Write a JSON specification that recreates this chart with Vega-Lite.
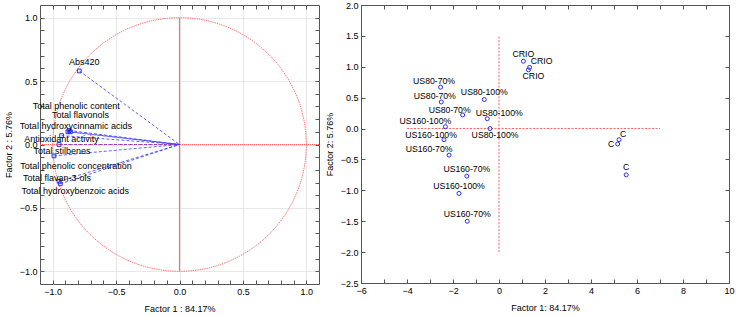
{
  "$schema": "https://vega.github.io/schema/vega-lite/v6.json",
  "autosize": {"type": "pad"},
  "padding": {"left": 3, "top": 0, "right": 0, "bottom": 0},
  "background": "white",
  "config": {
    "font": "Liberation Sans",
    "view": {"stroke": "#555555", "strokeWidth": 1},
    "axis": {
      "labelFontSize": 9,
      "titleFontSize": 9,
      "titleFontWeight": "normal",
      "labelColor": "#000000",
      "titleColor": "#000000",
      "gridColor": "#e2e2e2",
      "gridWidth": 0.8,
      "domain": false,
      "tickColor": "#555555",
      "tickSize": -4,
      "labelPadding": 7,
      "labelOverlap": false,
      "labelFlush": false
    }
  },
  "datasets": {
    "loadings": [
      {"variable": "Abs420", "f1": -0.79, "f2": 0.58},
      {"variable": "Total phenolic content", "f1": -0.87, "f2": 0.11},
      {"variable": "Total flavonols", "f1": -0.86, "f2": 0.1},
      {"variable": "Total hydroxycinnamic acids", "f1": -0.88, "f2": 0.1},
      {"variable": "Antioxidant activity", "f1": -0.93, "f2": 0.07},
      {"variable": "Total stilbenes", "f1": -0.95, "f2": 0.0},
      {"variable": "Total phenolic concentration", "f1": -0.99, "f2": -0.09},
      {"variable": "Total flavan-3-ols", "f1": -0.95, "f2": -0.29},
      {"variable": "Total hydroxybenzoic acids", "f1": -0.94, "f2": -0.31}
    ],
    "unitCircle": [
      {"k": 0, "cx": 1.0, "cy": 0.0},
      {"k": 1, "cx": 0.9659, "cy": 0.2588},
      {"k": 2, "cx": 0.866, "cy": 0.5},
      {"k": 3, "cx": 0.7071, "cy": 0.7071},
      {"k": 4, "cx": 0.5, "cy": 0.866},
      {"k": 5, "cx": 0.2588, "cy": 0.9659},
      {"k": 6, "cx": 0.0, "cy": 1.0},
      {"k": 7, "cx": -0.2588, "cy": 0.9659},
      {"k": 8, "cx": -0.5, "cy": 0.866},
      {"k": 9, "cx": -0.7071, "cy": 0.7071},
      {"k": 10, "cx": -0.866, "cy": 0.5},
      {"k": 11, "cx": -0.9659, "cy": 0.2588},
      {"k": 12, "cx": -1.0, "cy": 0.0},
      {"k": 13, "cx": -0.9659, "cy": -0.2588},
      {"k": 14, "cx": -0.866, "cy": -0.5},
      {"k": 15, "cx": -0.7071, "cy": -0.7071},
      {"k": 16, "cx": -0.5, "cy": -0.866},
      {"k": 17, "cx": -0.2588, "cy": -0.9659},
      {"k": 18, "cx": 0.0, "cy": -1.0},
      {"k": 19, "cx": 0.2588, "cy": -0.9659},
      {"k": 20, "cx": 0.5, "cy": -0.866},
      {"k": 21, "cx": 0.7071, "cy": -0.7071},
      {"k": 22, "cx": 0.866, "cy": -0.5},
      {"k": 23, "cx": 0.9659, "cy": -0.2588}
    ],
    "scores": [
      {"id": "s1", "sample": "CRIO", "f1": 1.06, "f2": 1.09},
      {"id": "s2", "sample": "CRIO", "f1": 1.33, "f2": 0.99},
      {"id": "s3", "sample": "CRIO", "f1": 1.28, "f2": 0.95},
      {"id": "s4", "sample": "US80-70%", "f1": -2.54, "f2": 0.67},
      {"id": "s5", "sample": "US80-70%", "f1": -2.51, "f2": 0.43},
      {"id": "s6", "sample": "US80-70%", "f1": -1.58, "f2": 0.22},
      {"id": "s7", "sample": "US80-100%", "f1": -0.64, "f2": 0.47},
      {"id": "s8", "sample": "US80-100%", "f1": -0.51, "f2": 0.16},
      {"id": "s9", "sample": "US80-100%", "f1": -0.39, "f2": 0.0},
      {"id": "s10", "sample": "US160-100%", "f1": -2.33, "f2": 0.03},
      {"id": "s11", "sample": "US160-100%", "f1": -2.39, "f2": -0.18},
      {"id": "s12", "sample": "US160-70%", "f1": -2.17, "f2": -0.43},
      {"id": "s13", "sample": "US160-70%", "f1": -1.4, "f2": -0.77},
      {"id": "s14", "sample": "US160-100%", "f1": -1.74, "f2": -1.05},
      {"id": "s15", "sample": "US160-70%", "f1": -1.38, "f2": -1.5},
      {"id": "s16", "sample": "C", "f1": 5.22, "f2": -0.18},
      {"id": "s17", "sample": "C", "f1": 5.16, "f2": -0.25},
      {"id": "s18", "sample": "C", "f1": 5.53, "f2": -0.75}
    ]
  },
  "spacing": 4,
  "hconcat": [
    {
      "width": 279,
      "height": 279,
      "encoding": {
        "x": {"type": "quantitative", "scale": {"domain": [-1.1, 1.1], "nice": false, "zero": false},
              "axis": {"values": [-1, -0.9, -0.8, -0.7, -0.6, -0.5, -0.4, -0.3, -0.2, -0.1, 0, 0.1, 0.2, 0.3, 0.4, 0.5, 0.6, 0.7, 0.8, 0.9, 1],
                       "labelExpr": "abs(datum.value * 2 - round(datum.value * 2)) < 0.001 ? format(datum.value, '.1f') : ''",
                       "gridOpacity": {"condition": {"test": "abs(datum.value * 2 - round(datum.value * 2)) < 0.001", "value": 1}, "value": 0},
                       "title": "Factor 1 : 84.17%", "titlePadding": 8}},
        "y": {"type": "quantitative", "scale": {"domain": [-1.1, 1.1], "nice": false, "zero": false},
              "axis": {"values": [-1, -0.9, -0.8, -0.7, -0.6, -0.5, -0.4, -0.3, -0.2, -0.1, 0, 0.1, 0.2, 0.3, 0.4, 0.5, 0.6, 0.7, 0.8, 0.9, 1],
                       "labelExpr": "abs(datum.value * 2 - round(datum.value * 2)) < 0.001 ? format(datum.value, '.1f') : ''",
                       "gridOpacity": {"condition": {"test": "abs(datum.value * 2 - round(datum.value * 2)) < 0.001", "value": 1}, "value": 0},
                       "title": "Factor 2 : 5.76%", "titlePadding": 6}}
      },
      "resolve": {"axis": {"x": "independent", "y": "independent"}},
      "layer": [
        {
          "layer": [
            {
              "data": {"name": "unitCircle"},
              "mark": {"type": "line", "interpolate": "cardinal-closed", "tension": 0, "color": "#ff6a6a", "stroke": "#ff6a6a", "strokeWidth": 0.9, "strokeDash": [1.5, 0.8]},
              "encoding": {
                "x": {"field": "cx", "type": "quantitative", "title": "Factor 1 : 84.17%"},
                "y": {"field": "cy", "type": "quantitative", "title": "Factor 2 : 5.76%"},
                "order": {"field": "k", "type": "quantitative"}
              }
            },
            {
              "data": {"values": [{}]},
              "mark": {"type": "rule", "color": "#ff7070", "stroke": "#ff7070", "strokeWidth": 1.2},
              "encoding": {"x": {"datum": 0}, "y": {"datum": -1}, "y2": {"datum": 1}}
            },
            {
              "data": {"values": [{}]},
              "mark": {"type": "rule", "color": "#ff5050", "stroke": "#ff5050", "strokeWidth": 0.9, "strokeDash": [1, 1]},
              "encoding": {"y": {"datum": 0}, "x": {"datum": -1.1}, "x2": {"datum": 1.1}}
            },
            {
              "data": {"name": "loadings"},
              "mark": {"type": "rule", "color": "#3a3aff", "stroke": "#3a3aff", "strokeWidth": 0.8, "strokeDash": [3, 2]},
              "encoding": {
                "x": {"field": "f1", "type": "quantitative", "title": "Factor 1 : 84.17%"},
                "y": {"field": "f2", "type": "quantitative", "title": "Factor 2 : 5.76%"},
                "x2": {"datum": 0},
                "y2": {"datum": 0}
              }
            },
            {
              "data": {"name": "loadings"},
              "mark": {"type": "point", "shape": "square", "filled": false, "stroke": "#2a2aff", "strokeWidth": 1, "size": 14, "opacity": 1},
              "encoding": {
                "x": {"field": "f1", "type": "quantitative", "title": "Factor 1 : 84.17%"},
                "y": {"field": "f2", "type": "quantitative", "title": "Factor 2 : 5.76%"}
              }
            },
            {"data": {"name": "loadings"}, "transform": [{"filter": "datum.variable == 'Abs420'"}],
             "mark": {"type": "text", "fontSize": 9, "color": "#000", "dx": 5, "dy": -9},
             "encoding": {"x": {"field": "f1", "type": "quantitative"}, "y": {"field": "f2", "type": "quantitative"}, "text": {"field": "variable"}}},
            {"data": {"name": "loadings"}, "transform": [{"filter": "datum.variable == 'Total phenolic content'"}],
             "mark": {"type": "text", "fontSize": 9, "color": "#000", "dx": 7, "dy": -25},
             "encoding": {"x": {"field": "f1", "type": "quantitative"}, "y": {"field": "f2", "type": "quantitative"}, "text": {"field": "variable"}}},
            {"data": {"name": "loadings"}, "transform": [{"filter": "datum.variable == 'Total flavonols'"}],
             "mark": {"type": "text", "fontSize": 9, "color": "#000", "dx": 10, "dy": -17},
             "encoding": {"x": {"field": "f1", "type": "quantitative"}, "y": {"field": "f2", "type": "quantitative"}, "text": {"field": "variable"}}},
            {"data": {"name": "loadings"}, "transform": [{"filter": "datum.variable == 'Total hydroxycinnamic acids'"}],
             "mark": {"type": "text", "fontSize": 9, "color": "#000", "dx": 8, "dy": -6},
             "encoding": {"x": {"field": "f1", "type": "quantitative"}, "y": {"field": "f2", "type": "quantitative"}, "text": {"field": "variable"}}},
            {"data": {"name": "loadings"}, "transform": [{"filter": "datum.variable == 'Antioxidant activity'"}],
             "mark": {"type": "text", "fontSize": 9, "color": "#000", "dx": 0, "dy": 3},
             "encoding": {"x": {"field": "f1", "type": "quantitative"}, "y": {"field": "f2", "type": "quantitative"}, "text": {"field": "variable"}}},
            {"data": {"name": "loadings"}, "transform": [{"filter": "datum.variable == 'Total stilbenes'"}],
             "mark": {"type": "text", "fontSize": 9, "color": "#000", "dx": 3, "dy": 6.5},
             "encoding": {"x": {"field": "f1", "type": "quantitative"}, "y": {"field": "f2", "type": "quantitative"}, "text": {"field": "variable"}}},
            {"data": {"name": "loadings"}, "transform": [{"filter": "datum.variable == 'Total phenolic concentration'"}],
             "mark": {"type": "text", "fontSize": 9, "color": "#000", "dx": 22, "dy": 10},
             "encoding": {"x": {"field": "f1", "type": "quantitative"}, "y": {"field": "f2", "type": "quantitative"}, "text": {"field": "variable"}}},
            {"data": {"name": "loadings"}, "transform": [{"filter": "datum.variable == 'Total flavan-3-ols'"}],
             "mark": {"type": "text", "fontSize": 9, "color": "#000", "dx": -2, "dy": -3},
             "encoding": {"x": {"field": "f1", "type": "quantitative"}, "y": {"field": "f2", "type": "quantitative"}, "text": {"field": "variable"}}},
            {"data": {"name": "loadings"}, "transform": [{"filter": "datum.variable == 'Total hydroxybenzoic acids'"}],
             "mark": {"type": "text", "fontSize": 9, "color": "#000", "dx": 15, "dy": 7},
             "encoding": {"x": {"field": "f1", "type": "quantitative"}, "y": {"field": "f2", "type": "quantitative"}, "text": {"field": "variable"}}}
          ]
        },
        {
          "data": {"name": "loadings"},
          "mark": {"type": "point", "opacity": 0},
          "encoding": {
            "x": {"field": "f1", "type": "quantitative",
                  "axis": {"orient": "top", "values": [-1, -0.9, -0.8, -0.7, -0.6, -0.5, -0.4, -0.3, -0.2, -0.1, 0, 0.1, 0.2, 0.3, 0.4, 0.5, 0.6, 0.7, 0.8, 0.9, 1], "labels": false, "grid": false, "title": null}},
            "y": {"field": "f2", "type": "quantitative",
                  "axis": {"orient": "right", "values": [-1, -0.9, -0.8, -0.7, -0.6, -0.5, -0.4, -0.3, -0.2, -0.1, 0, 0.1, 0.2, 0.3, 0.4, 0.5, 0.6, 0.7, 0.8, 0.9, 1], "labels": false, "grid": false, "title": null}}
          }
        }
      ]
    },
    {
      "width": 368,
      "height": 278,
      "encoding": {
        "x": {"type": "quantitative", "scale": {"domain": [-6, 10], "nice": false, "zero": false},
              "axis": {"values": [-6, -5, -4, -3, -2, -1, 0, 1, 2, 3, 4, 5, 6, 7, 8, 9, 10],
                       "labelExpr": "datum.value % 2 == 0 ? format(datum.value, 'd') : ''",
                       "gridOpacity": {"condition": {"test": "datum.value % 2 == 0", "value": 1}, "value": 0},
                       "title": "Factor 1: 84.17%", "titlePadding": 8}},
        "y": {"type": "quantitative", "scale": {"domain": [-2.5, 2.0], "nice": false, "zero": false},
              "axis": {"values": [-2.5, -2, -1.5, -1, -0.5, 0, 0.5, 1, 1.5, 2], "format": ".1f", "title": "Factor 2:  5.76%", "titlePadding": 6}}
      },
      "resolve": {"axis": {"x": "independent", "y": "independent"}},
      "layer": [
        {
          "layer": [
            {
              "data": {"values": [{}]},
              "mark": {"type": "rule", "color": "#ff4a4a", "stroke": "#ff4a4a", "strokeWidth": 0.9, "strokeDash": [2, 1.5]},
              "encoding": {"x": {"datum": 0}, "y": {"datum": -2.0}, "y2": {"datum": 1.5}}
            },
            {
              "data": {"values": [{}]},
              "mark": {"type": "rule", "color": "#ff4a4a", "stroke": "#ff4a4a", "strokeWidth": 0.9, "strokeDash": [2, 1.5]},
              "encoding": {"y": {"datum": 0}, "x": {"datum": -4}, "x2": {"datum": 7}}
            },
            {
              "data": {"name": "scores"},
              "mark": {"type": "point", "shape": "circle", "filled": false, "stroke": "#2a2aff", "strokeWidth": 1, "size": 16, "opacity": 1},
              "encoding": {
                "x": {"field": "f1", "type": "quantitative", "title": "Factor 1: 84.17%"},
                "y": {"field": "f2", "type": "quantitative", "title": "Factor 2:  5.76%"}
              }
            },
            {"data": {"name": "scores"}, "transform": [{"filter": {"field": "id", "oneOf": ["s1", "s7", "s13", "s14", "s15", "s18"]}}],
             "mark": {"type": "text", "fontSize": 8.7, "color": "#000", "dx": 0, "dy": -7.5},
             "encoding": {"x": {"field": "f1", "type": "quantitative"}, "y": {"field": "f2", "type": "quantitative"}, "text": {"field": "sample"}}},
            {"data": {"name": "scores"}, "transform": [{"filter": {"field": "id", "oneOf": ["s4", "s5"]}}],
             "mark": {"type": "text", "fontSize": 8.7, "color": "#000", "dx": -6.5, "dy": -6.3},
             "encoding": {"x": {"field": "f1", "type": "quantitative"}, "y": {"field": "f2", "type": "quantitative"}, "text": {"field": "sample"}}},
            {"data": {"name": "scores"}, "transform": [{"filter": {"field": "id", "oneOf": ["s6", "s11"]}}],
             "mark": {"type": "text", "fontSize": 8.7, "color": "#000", "dx": -13, "dy": -5},
             "encoding": {"x": {"field": "f1", "type": "quantitative"}, "y": {"field": "f2", "type": "quantitative"}, "text": {"field": "sample"}}},
            {"data": {"name": "scores"}, "transform": [{"filter": {"field": "id", "oneOf": ["s10", "s12"]}}],
             "mark": {"type": "text", "fontSize": 8.7, "color": "#000", "dx": -20, "dy": -6},
             "encoding": {"x": {"field": "f1", "type": "quantitative"}, "y": {"field": "f2", "type": "quantitative"}, "text": {"field": "sample"}}},
            {"data": {"name": "scores"}, "transform": [{"filter": {"field": "id", "oneOf": ["s2", "s8"]}}],
             "mark": {"type": "text", "fontSize": 8.7, "color": "#000", "dx": 12, "dy": -6},
             "encoding": {"x": {"field": "f1", "type": "quantitative"}, "y": {"field": "f2", "type": "quantitative"}, "text": {"field": "sample"}}},
            {"data": {"name": "scores"}, "transform": [{"filter": {"field": "id", "oneOf": ["s3", "s9"]}}],
             "mark": {"type": "text", "fontSize": 8.7, "color": "#000", "dx": 5, "dy": 6.5},
             "encoding": {"x": {"field": "f1", "type": "quantitative"}, "y": {"field": "f2", "type": "quantitative"}, "text": {"field": "sample"}}},
            {"data": {"name": "scores"}, "transform": [{"filter": {"field": "id", "oneOf": ["s16"]}}],
             "mark": {"type": "text", "fontSize": 8.7, "color": "#000", "dx": 4, "dy": -6},
             "encoding": {"x": {"field": "f1", "type": "quantitative"}, "y": {"field": "f2", "type": "quantitative"}, "text": {"field": "sample"}}},
            {"data": {"name": "scores"}, "transform": [{"filter": {"field": "id", "oneOf": ["s17"]}}],
             "mark": {"type": "text", "fontSize": 8.7, "color": "#000", "dx": -6.5, "dy": 0},
             "encoding": {"x": {"field": "f1", "type": "quantitative"}, "y": {"field": "f2", "type": "quantitative"}, "text": {"field": "sample"}}}
          ]
        },
        {
          "data": {"name": "scores"},
          "mark": {"type": "point", "opacity": 0},
          "encoding": {
            "x": {"field": "f1", "type": "quantitative",
                  "axis": {"orient": "top", "values": [-6, -5, -4, -3, -2, -1, 0, 1, 2, 3, 4, 5, 6, 7, 8, 9, 10], "labels": false, "grid": false, "title": null}},
            "y": {"field": "f2", "type": "quantitative",
                  "axis": {"orient": "right", "values": [-2.5, -2, -1.5, -1, -0.5, 0, 0.5, 1, 1.5, 2], "labels": false, "grid": false, "title": null}}
          }
        }
      ]
    }
  ]
}
